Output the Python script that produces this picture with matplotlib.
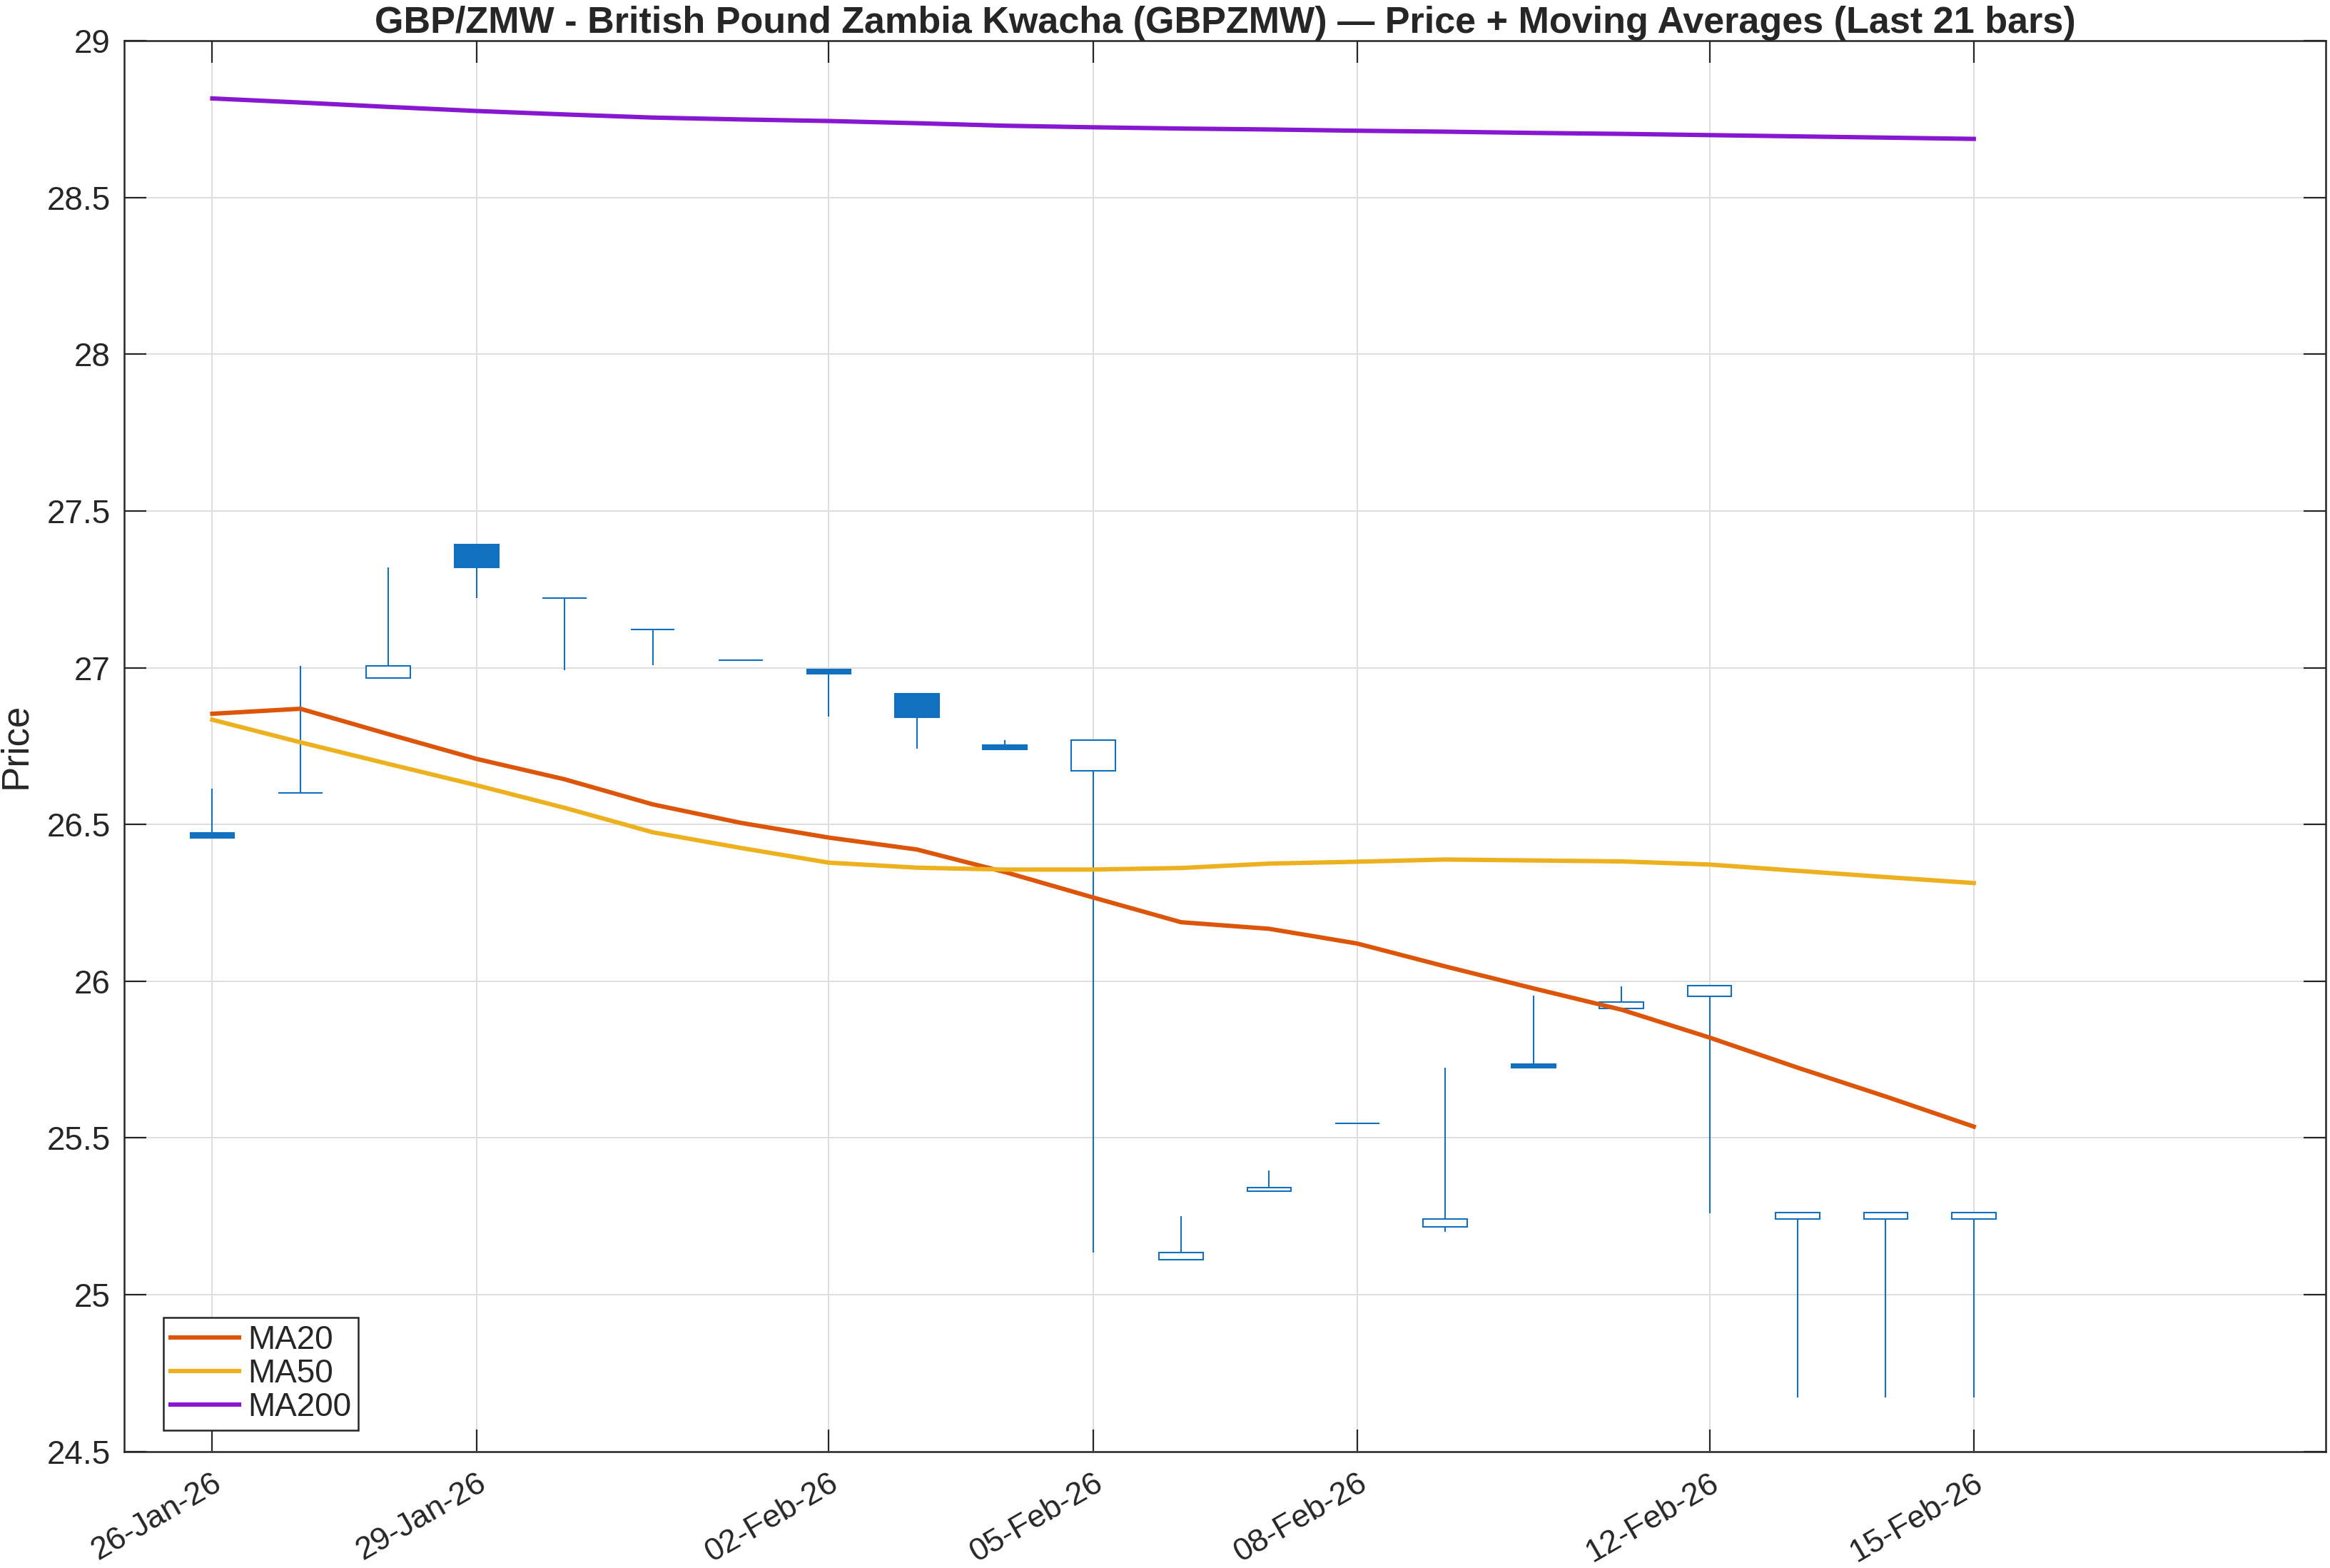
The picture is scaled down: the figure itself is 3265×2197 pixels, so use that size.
import matplotlib
matplotlib.use("Agg")
import matplotlib.pyplot as plt
import matplotlib.dates as mdates
from matplotlib.ticker import FuncFormatter
import numpy as np
import pandas as pd

plt.rcParams['font.family'] = ['Liberation Sans', 'DejaVu Sans']

# daily bars, 26-Jan-2026 .. 15-Feb-2026
dates = pd.date_range('2026-01-26', '2026-02-15', freq='D')

opens = [26.473, 26.600, 26.968, 27.393, 27.223, 27.123, 27.024, 26.995, 26.917, 26.754, 26.672,
         25.111, 25.329, 25.547, 25.216, 25.735, 25.914, 25.951, 25.241, 25.241, 25.241]
highs = [26.615, 27.005, 27.320, 27.393, 27.223, 27.123, 27.024, 26.995, 26.917, 26.768, 26.768,
         25.251, 25.397, 25.547, 25.724, 25.953, 25.983, 25.985, 25.261, 25.261, 25.261]
lows = [26.458, 26.600, 26.968, 27.221, 26.991, 27.007, 27.024, 26.843, 26.741, 26.739, 25.134,
        25.111, 25.329, 25.547, 25.200, 25.723, 25.914, 25.260, 24.671, 24.671, 24.671]
closes = [26.458, 26.600, 27.006, 27.319, 27.221, 27.122, 27.024, 26.980, 26.841, 26.739, 26.768,
          25.134, 25.341, 25.547, 25.241, 25.723, 25.933, 25.985, 25.261, 25.261, 25.261]

ma20 = [26.853, 26.869, 26.788, 26.709, 26.644, 26.564, 26.505, 26.458, 26.420, 26.348, 26.267,
        26.188, 26.167, 26.120, 26.047, 25.977, 25.909, 25.820, 25.724, 25.632, 25.536]
ma50 = [26.834, 26.762, 26.693, 26.625, 26.553, 26.475, 26.425, 26.378, 26.362, 26.356, 26.356,
        26.361, 26.375, 26.381, 26.388, 26.385, 26.382, 26.372, 26.352, 26.332, 26.313]
ma200 = [28.816, 28.803, 28.789, 28.776, 28.765, 28.755, 28.749, 28.744, 28.737, 28.729, 28.724,
         28.720, 28.717, 28.713, 28.710, 28.706, 28.703, 28.699, 28.695, 28.691, 28.687]

tick_dates = ['2026-01-26', '2026-01-29', '2026-02-02', '2026-02-05',
              '2026-02-08', '2026-02-12', '2026-02-15']
yticks = [24.5, 25, 25.5, 26, 26.5, 27, 27.5, 28, 28.5, 29]

title = 'GBP/ZMW - British Pound Zambia Kwacha (GBPZMW) \u2014 Price + Moving Averages (Last 21 bars)'

candle_col = '#1170BF'
axis_col = '#262626'

fig = plt.figure(figsize=(16.33, 10.985), dpi=200)
ax = fig.add_axes([0.0533, 0.0744, 0.9447, 0.8996])

x = mdates.date2num(dates.to_pydatetime())
o = np.array(opens)
c = np.array(closes)

# wicks then bodies
ax.vlines(x, lows, highs, color=candle_col, linewidth=0.75, zorder=3)
bottoms = np.minimum(o, c)
heights = np.abs(c - o)
faces = [candle_col if cc < oo else 'white' for oo, cc in zip(o, c)]
ax.bar(x, heights, bottom=bottoms, width=0.5, color=faces, edgecolor=candle_col,
       linewidth=0.75, zorder=4)

ax.plot(x, ma20, color='#DC5508', linewidth=2.2, label='MA20', zorder=5)
ax.plot(x, ma50, color='#EDB120', linewidth=2.2, label='MA50', zorder=5)
ax.plot(x, ma200, color='#8717D0', linewidth=2.2, label='MA200', zorder=5)

ax.set_xlim(mdates.datestr2num('2026-01-25'), mdates.datestr2num('2026-02-19'))
ax.set_ylim(24.5, 29)
ax.set_yticks(yticks)
ax.yaxis.set_major_formatter(FuncFormatter(lambda v, p: '%g' % v))
ax.set_xticks(mdates.datestr2num(tick_dates))
ax.xaxis.set_major_formatter(mdates.DateFormatter('%d-%b-%y'))

ax.grid(True, color='#DEDEDE', linewidth=0.7)
ax.set_axisbelow(True)

for s in ax.spines.values():
    s.set_color(axis_col)
    s.set_linewidth(0.9)
ax.tick_params(direction='in', length=11, width=0.8, color=axis_col,
               top=True, right=True, labelsize=16.5, labelcolor=axis_col)
ax.tick_params(axis='y', pad=7)
ax.tick_params(axis='x', pad=8.5, labelsize=16.2)
for lab in ax.get_xticklabels():
    lab.set_rotation(30)
    lab.set_ha('right')
    lab.set_va('top')
    lab.set_rotation_mode('anchor')

ax.set_ylabel('Price', fontsize=19, color=axis_col)
ax.yaxis.set_label_coords(-0.041, 0.5)
ax.set_title(title, fontsize=18.75, fontweight='bold', color=axis_col, pad=4)

leg = ax.legend(loc='lower left', bbox_to_anchor=(0.0178, 0.015), borderaxespad=0,
                fontsize=16.5, fancybox=False, framealpha=1, edgecolor=axis_col,
                handlelength=2.1, labelspacing=0.06, borderpad=0.22, handletextpad=0.25)
leg.get_frame().set_linewidth(0.9)
for t in leg.get_texts():
    t.set_color(axis_col)

fig.savefig('out.png', dpi=200)
